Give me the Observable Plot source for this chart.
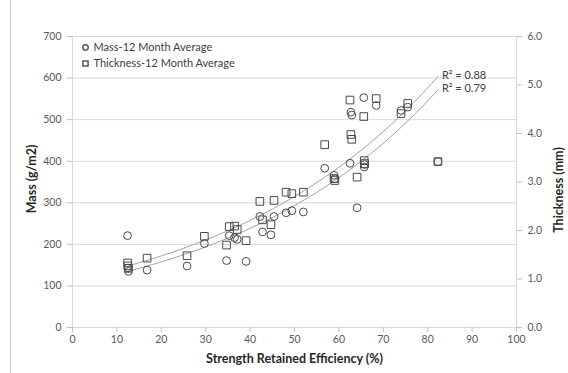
<!DOCTYPE html>
<html>
<head>
<meta charset="utf-8">
<script src="https://cdn.jsdelivr.net/npm/d3@7"></script>
<script src="https://cdn.jsdelivr.net/npm/@observablehq/plot@0.6"></script>
<style>
  html, body { margin: 0; padding: 0; background: #fff; }
  #wrap { position: relative; width: 568px; height: 373px; overflow: hidden; }
  #border { position: absolute; left: 10px; top: 0; width: 0; height: 373px; border-left: 1px solid #c8c8c8; }
  #chart { position: absolute; left: 0; top: 0; }
</style>
</head>
<body>
<div id="wrap"><div id="border"></div><div id="chart"></div></div>
<script>
// Strength retained efficiency (%)
const xVals = [12.4, 12.5, 12.6, 16.8, 25.8, 29.7, 34.7, 35.3, 36.5, 37.1, 39.1, 42.2, 42.8, 44.7, 45.4, 48.1, 49.4, 52.0, 56.8, 58.9, 59.1, 62.5, 62.7, 62.9, 64.1, 65.6, 65.7, 65.8, 68.4, 74.0, 75.5, 82.3];
// Mass-12 Month Average (g/m2)
const massVals = [221, 143, 135, 138, 148, 202, 161, 221, 216, 212, 159, 267, 230, 223, 267, 276, 281, 278, 383, 366, 358, 395, 518, 511, 288, 553, 386, 392, 534, 522, 530, 399];
// Thickness-12 Month Average (mm)
const thickVals = [1.33, 1.27, 1.22, 1.43, 1.48, 1.88, 1.70, 2.08, 2.09, 2.02, 1.79, 2.60, 2.22, 2.12, 2.62, 2.79, 2.76, 2.79, 3.77, 3.07, 3.03, 4.69, 3.98, 3.88, 3.10, 4.35, 3.44, 3.38, 4.72, 4.41, 4.62, 3.42];

const massTicks = [0, 100, 200, 300, 400, 500, 600, 700];
const thickTicks = [0, 1, 2, 3, 4, 5, 6];
const xTicks = [0, 10, 20, 30, 40, 50, 60, 70, 80, 90, 100];
const seriesNames = ["Mass-12 Month Average", "Thickness-12 Month Average"];
const r2Labels = ["R\u00B2 = 0.79", "R\u00B2 = 0.88"]; // mass, thickness
const xTitle = "Strength Retained Efficiency (%)";
const yTitle = "Mass (g/m2)";
const y2Title = "Thickness (mm)";

const massMax = 700, thickMax = 6;
const k = massMax / thickMax; // secondary axis -> primary scale

// Exponential trendline (least squares on ln y), like a spreadsheet trendline
function expFit(xs, ys) {
  const n = xs.length;
  const ly = ys.map(Math.log);
  const mx = d3.mean(xs), my = d3.mean(ly);
  let sxy = 0, sxx = 0;
  for (let i = 0; i < n; i++) { sxy += (xs[i] - mx) * (ly[i] - my); sxx += (xs[i] - mx) ** 2; }
  const b = sxy / sxx, a = Math.exp(my - b * mx);
  return x => a * Math.exp(b * x);
}
const fitMass = expFit(xVals, massVals);
const fitThick = expFit(xVals, thickVals);
const x0 = d3.min(xVals), x1 = d3.max(xVals);
const curveX = d3.range(0, 101).map(i => x0 + (x1 - x0) * i / 100);
const massCurve = curveX.map(x => ({x, y: fitMass(x)}));
const thickCurve = curveX.map(x => ({x, y: fitThick(x) * k}));

const rows = xVals.map((x, i) => ({x, m: massVals[i], t: thickVals[i]}));
const ends = [
  {x: x1, y: fitMass(x1), label: r2Labels[0]},
  {x: x1, y: fitThick(x1) * k, label: r2Labels[1]}
];

const tickColor = "#595959";
const lineGray = "#d9d9d9";
const markerColor = "#4a4a4a";

const chart = Plot.plot({
  width: 568,
  height: 373,
  marginLeft: 72,
  marginRight: 52,
  marginTop: 36,
  marginBottom: 46,
  x: {domain: [0, 100]},
  y: {domain: [0, massMax]},
  style: {fontFamily: "Lato, 'Open Sans', sans-serif", fontSize: "10.5px", color: tickColor, background: "transparent"},
  marks: [
    Plot.gridY(massTicks, {stroke: lineGray, strokeOpacity: 1}),
    Plot.ruleX([0, 100], {stroke: lineGray}),
    Plot.axisY(massTicks, {anchor: "left", tickSize: 5, tickPadding: 6, stroke: "#bfbfbf", fill: tickColor, label: null, tickFormat: d => String(d)}),
    Plot.axisY(thickTicks.map(t => t * k), {anchor: "right", tickSize: 5, tickPadding: 6, stroke: "#bfbfbf", fill: tickColor, label: null, tickFormat: d => (d / k).toFixed(1)}),
    Plot.axisX(xTicks, {anchor: "bottom", tickSize: 5, tickPadding: 3, stroke: "#bfbfbf", fill: tickColor, label: null, tickFormat: d => String(d)}),
    Plot.line(massCurve, {x: "x", y: "y", stroke: "#a0a0a0", strokeWidth: 1}),
    Plot.line(thickCurve, {x: "x", y: "y", stroke: "#a0a0a0", strokeWidth: 1}),
    Plot.dot(rows, {x: "x", y: "m", symbol: "circle", r: 3.9, stroke: markerColor, strokeWidth: 1, fill: "none"}),
    Plot.dot(rows, {x: "x", y: d => d.t * k, symbol: "square", r: 4.3, stroke: markerColor, strokeWidth: 1, fill: "none"}),
    Plot.text(ends, {x: "x", y: "y", text: "label", dx: 4, dy: -1, textAnchor: "start", fill: "#404040", fontSize: 11}),
    // legend
    Plot.dot([seriesNames[0]], {frameAnchor: "top-left", dx: 13, dy: 11, symbol: "circle", r: 2.7, stroke: "#595959", fill: "none"}),
    Plot.text([seriesNames[0]], {frameAnchor: "top-left", dx: 21, dy: 11, text: d => d, textAnchor: "start", lineAnchor: "middle", fill: "#404040", fontSize: 11}),
    Plot.dot([seriesNames[1]], {frameAnchor: "top-left", dx: 13, dy: 27, symbol: "square", r: 2.9, stroke: "#595959", fill: "none"}),
    Plot.text([seriesNames[1]], {frameAnchor: "top-left", dx: 21, dy: 27, text: d => d, textAnchor: "start", lineAnchor: "middle", fill: "#404040", fontSize: 11}),
    // axis titles
    Plot.text([yTitle], {frameAnchor: "left", dx: -41, dy: -3, rotate: -90, text: d => d, textAnchor: "middle", lineAnchor: "middle", fontWeight: "bold", fontSize: 12.5, fill: "#262626"}),
    Plot.text([y2Title], {frameAnchor: "right", dx: 42, dy: 8, rotate: -90, text: d => d, textAnchor: "middle", lineAnchor: "middle", fontWeight: "bold", fontSize: 12.5, fill: "#262626"}),
    Plot.text([xTitle], {frameAnchor: "bottom", dy: 31, text: d => d, textAnchor: "middle", lineAnchor: "middle", fontWeight: "bold", fontSize: 12.5, fill: "#262626"})
  ]
});
document.getElementById("chart").appendChild(chart);
</script>
</body>
</html>
